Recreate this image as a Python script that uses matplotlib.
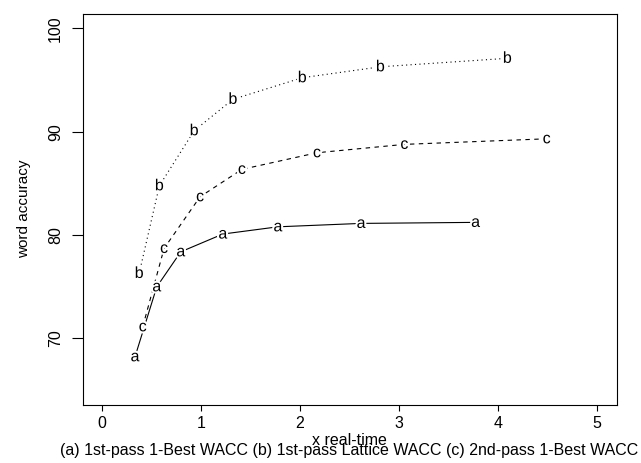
import matplotlib.pyplot as plt
import matplotlib.patheffects as pe

# x real-time and word accuracy
xA = [0.331, 0.551, 0.794, 1.219, 1.776, 2.617, 3.775]
yA = [68.22, 74.99, 78.38, 80.10, 80.80, 81.13, 81.23]

xB = [0.373, 0.577, 0.929, 1.321, 2.022, 2.812, 4.096]
yB = [76.29, 84.77, 90.10, 93.14, 95.23, 96.29, 97.11]

xC = [0.409, 0.625, 0.989, 1.412, 2.171, 3.055, 4.494]
yC = [71.12, 78.71, 83.71, 86.36, 87.97, 88.78, 89.32]

xTicks = [0, 1, 2, 3, 4, 5]
yTicks = [70, 80, 90, 100]
subTitle = "(a) 1st-pass 1-Best WACC (b) 1st-pass Lattice WACC (c) 2nd-pass 1-Best WACC"

plt.rcParams['font.family'] = ['Liberation Sans', 'DejaVu Sans']
fs = 11.5

fig = plt.figure(figsize=(6.41, 4.63), dpi=100)
ax = fig.add_axes([82.5 / 641, (463 - 404.5) / 463, 534 / 641, 390.5 / 463])

series = [(xA, yA, 'a', '-'), (xB, yB, 'b', (0, (1, 3))), (xC, yC, 'c', (0, (4, 4)))]
for xs, ys, letter, style in series:
    ax.plot(xs, ys, color='black', linewidth=0.8, linestyle=style)
    for x, y in zip(xs, ys):
        ax.text(x, y, letter, ha='center', va='center', fontsize=fs,
                path_effects=[pe.withStroke(linewidth=3, foreground='white')])

# R style ranges: limits padded by 4%
ax.set_xlim(-0.2, 5.2)
ax.set_ylim(63.6, 101.4)
ax.set_xticks(xTicks)
ax.set_yticks(yTicks)
ax.set_yticklabels([str(v) for v in yTicks], rotation=90, va='center')
ax.tick_params(axis='x', length=4.3, width=0.8, pad=4, labelsize=fs)
ax.tick_params(axis='y', length=8, width=0.8, pad=6, labelsize=fs)
for spine in ax.spines.values():
    spine.set_linewidth(0.8)

ax.set_ylabel('word accuracy', fontsize=11, labelpad=12)
fig.text(349.3 / 641, 1 - 445 / 463, 'x real-time', ha='center', va='baseline', fontsize=fs)
fig.text(349.3 / 641, 1 - 455 / 463, subTitle, ha='center', va='baseline', fontsize=fs)

fig.savefig('out.png', dpi=100)
